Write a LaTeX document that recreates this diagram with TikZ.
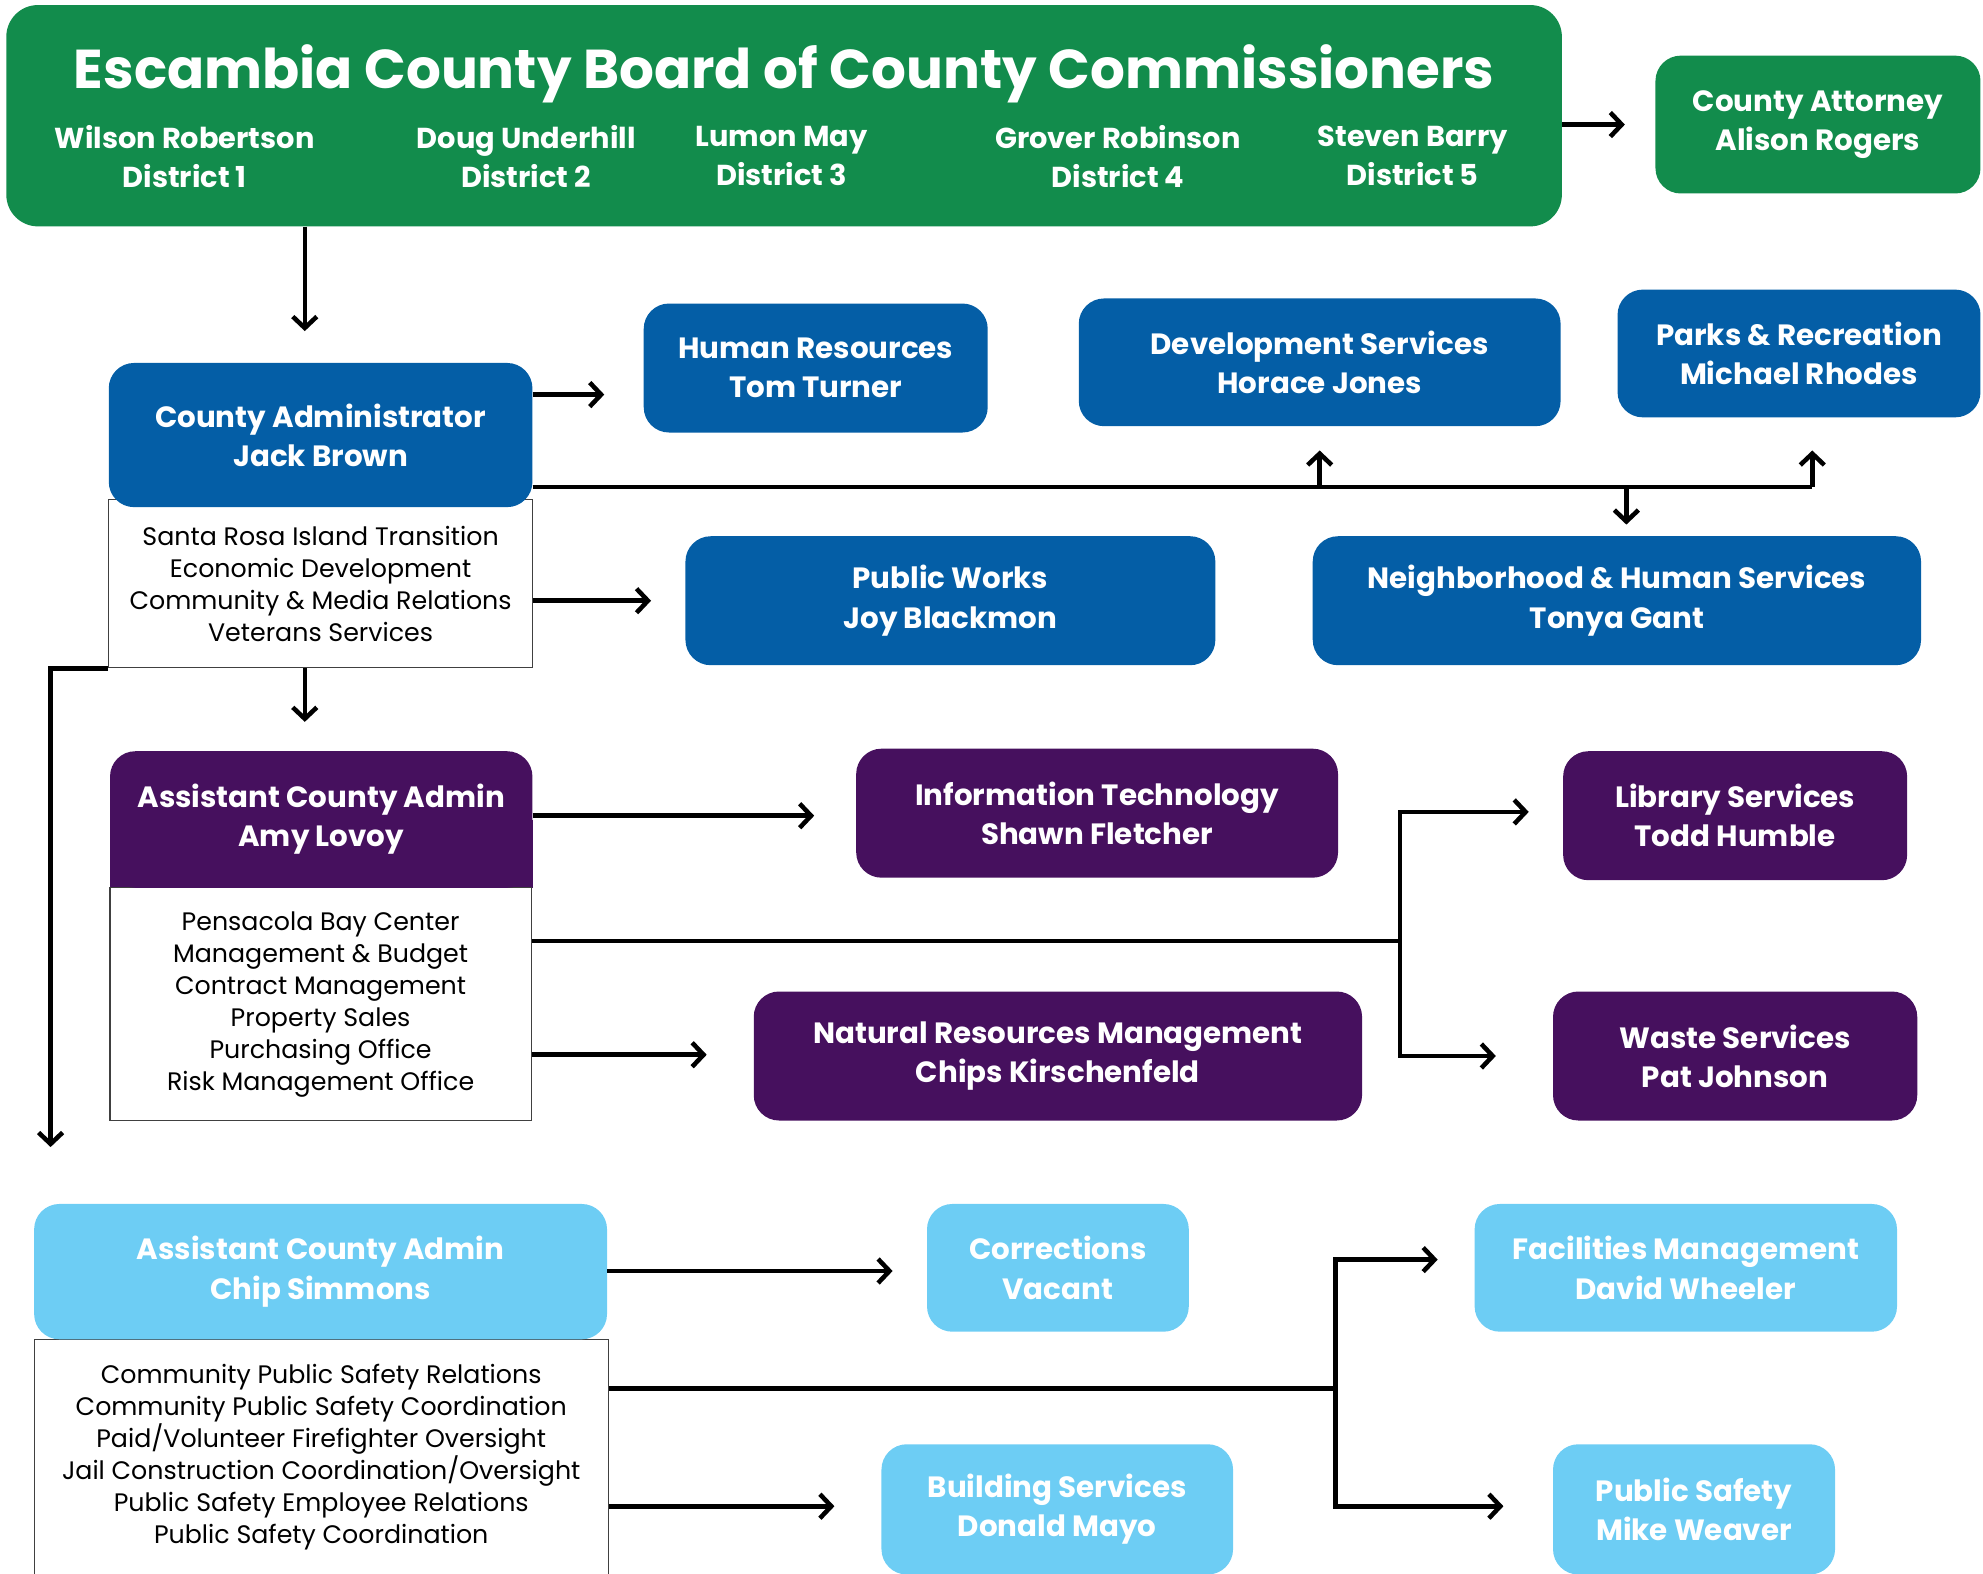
\documentclass[tikz,border=0pt]{standalone}
\usepackage{fontspec}
\setmainfont{Poppins}
\usetikzlibrary{arrows.meta,backgrounds,calc}
\definecolor{cgreen}{RGB}{18,140,76}
\definecolor{cblue}{RGB}{4,94,166}
\definecolor{cpurple}{RGB}{70,16,94}
\definecolor{clight}{RGB}{109,205,244}
\begin{document}
\begin{tikzpicture}[x=1pt,y=-1pt,
  hdr/.style={rounded corners=20pt, text=white, align=center, inner sep=0pt,
    font=\bfseries\fontsize{23.2}{31}\selectfont},
  lst/.style={draw=black!75, line width=0.9pt, fill=white, align=center, inner sep=0pt,
    font=\fontsize{20}{25.3}\selectfont},
  comm/.style={text=white, align=center, inner sep=0pt, font=\bfseries\fontsize{22.8}{31}\selectfont},
  conn/.style={line width=3.6pt},
  arr/.style={line width=3.6pt, -{Straight Barb[length=9pt,width=19pt]}}
]
\useasboundingbox (0,0) rectangle (1568,1244);
\clip (0,0) rectangle (1568,1244);

% Board
\node[fill=cgreen, rounded corners=25pt, minimum width=1230pt, minimum height=175pt, inner sep=0pt] (board) at (620,91.5) {};
\node[text=white, anchor=base, inner sep=0pt, font=\bfseries\fontsize{43.3}{50}\selectfont] (title) at (620,70) {Escambia County Board of County Commissioners};
\node[comm] (c1) at (146,123.5) {Wilson Robertson\\District 1};
\node[comm] (c2) at (416,123.5) {Doug Underhill\\District 2};
\node[comm] (c3) at (618,123.5) {Lumon May\\District 3};
\node[comm] (c4) at (884,123.5) {Grover Robinson\\District 4};
\node[comm] (c5) at (1117,123.5) {Steven Barry\\District 5};
\node[hdr, fill=cgreen, minimum width=257pt, minimum height=109pt] (att) at (1437.5,98.5) {County Attorney\\Alison Rogers};

% County Administrator
\node[lst, minimum width=335pt, minimum height=133pt] (admlist) at (253.5,461.5) {Santa Rosa Island Transition\\Economic Development\\Community \& Media Relations\\Veterans Services};
\node[hdr, fill=cblue, minimum width=335pt, minimum height=114pt] (adm) at (253.5,344) {County Administrator\\Jack Brown};
\node[hdr, fill=cblue, minimum width=272pt, minimum height=102pt] (hr) at (645,291) {Human Resources\\Tom Turner};
\node[hdr, fill=cblue, minimum width=381pt, minimum height=101pt] (ds) at (1043.5,286.5) {Development Services\\Horace Jones};
\node[hdr, fill=cblue, minimum width=287pt, minimum height=101pt] (pr) at (1422.5,279.5) {Parks \& Recreation\\Michael Rhodes};
\node[hdr, fill=cblue, minimum width=419pt, minimum height=102pt] (pw) at (751.5,475) {Public Works\\Joy Blackmon};
\node[hdr, fill=cblue, minimum width=481pt, minimum height=102pt] (nhs) at (1278.5,475) {Neighborhood \& Human Services\\Tonya Gant};

% Amy Lovoy
\node[lst, minimum width=333pt, minimum height=184pt] (amylist) at (253.5,794) {Pensacola Bay Center\\Management \& Budget\\Contract Management\\Property Sales\\Purchasing Office\\Risk Management Office};
\node[hdr, fill=cpurple, minimum width=334pt, minimum height=108pt] (amy) at (254,648) {Assistant County Admin\\Amy Lovoy};
\begin{scope}[on background layer]
\fill[cpurple] (amy.west) rectangle (amy.south east);
\end{scope}
\node[hdr, fill=cpurple, minimum width=381pt, minimum height=102pt] (it) at (867.5,643) {Information Technology\\Shawn Fletcher};
\node[hdr, fill=cpurple, minimum width=272pt, minimum height=102pt] (lib) at (1372,645) {Library Services\\Todd Humble};
\node[hdr, fill=cpurple, minimum width=288pt, minimum height=102pt] (waste) at (1372,835) {Waste Services\\Pat Johnson};
\node[hdr, fill=cpurple, minimum width=481pt, minimum height=102pt] (nrm) at (836.5,835) {Natural Resources Management\\Chips Kirschenfeld};

% Chip Simmons
\node[lst, minimum width=454pt, minimum height=186pt] (chiplist) at (254,1152) {Community Public Safety Relations\\Community Public Safety Coordination\\Paid/Volunteer Firefighter Oversight\\Jail Construction Coordination/Oversight\\Public Safety Employee Relations\\Public Safety Coordination};
\node[hdr, fill=clight, minimum width=453pt, minimum height=107pt] (chip) at (253.5,1005.5) {Assistant County Admin\\Chip Simmons};
\node[hdr, fill=clight, minimum width=207pt, minimum height=101pt] (corr) at (836.5,1002.5) {Corrections\\Vacant};
\node[hdr, fill=clight, minimum width=334pt, minimum height=101pt] (fac) at (1333,1002.5) {Facilities Management\\David Wheeler};
\node[hdr, fill=clight, minimum width=278pt, minimum height=103pt] (bld) at (836,1193.5) {Building Services\\Donald Mayo};
\node[hdr, fill=clight, minimum width=223pt, minimum height=103pt] (ps) at (1339.5,1193.5) {Public Safety\\Mike Weaver};

% junction coordinates
\coordinate (j1) at (1433,385);
\coordinate (j2) at (1286,385);
\coordinate (j3) at (1107,744);
\coordinate (j4) at (1056,1098);
\coordinate (lft) at (40,907);

% connectors
\draw[arr, shorten >=24pt] (board.east |- att.west) -- (att.west);
\draw[arr, shorten >=25pt] ([xshift=-12.5pt]adm.north |- board.south) -- ([xshift=-12.5pt]adm.north);
\draw[arr, shorten >=31pt] (adm.east |- 0,312) -- (hr.west |- 0,312);
\draw[conn] (adm.east |- j1) -- (j1);
\draw[arr, shorten >=19pt] (ds.south |- j1) -- (ds.south);
\draw[arr, shorten >=26pt] (j1) -- (j1 |- pr.south);
\draw[arr, shorten >=9pt] (j2) -- (j2 |- nhs.north);
\draw[arr, shorten >=27pt] (admlist.east |- pw.west) -- (pw.west);
\draw[arr] (admlist.south west) -| (lft);
\draw[arr, shorten >=23pt] ([xshift=-12.5pt]admlist.south) -- ([xshift=-13pt]amy.north);
\draw[arr, shorten >=33pt] (amy.east |- 0,645) -- (it.west |- 0,645);
\draw[conn] (amylist.east |- j3) -- (j3);
\draw[arr, shorten >=27pt] (j3) |- (lib.west |- 0,642);
\draw[arr, shorten >=45pt] (j3) |- (waste.west);
\draw[arr, shorten >=37pt] (amylist.east |- 0,834) -- (nrm.west |- 0,834);
\draw[arr, shorten >=27pt] (chip.east |- 0,1005) -- (corr.west |- 0,1005);
\draw[conn] (chiplist.east |- j4) -- (j4);
\draw[arr, shorten >=29pt] (j4) |- (fac.west |- 0,996);
\draw[arr, shorten >=39pt] (j4) |- (ps.west |- 0,1191);
\draw[arr, shorten >=37pt] (chiplist.east |- 0,1191) -- (bld.west |- 0,1191);
\end{tikzpicture}
\end{document}
